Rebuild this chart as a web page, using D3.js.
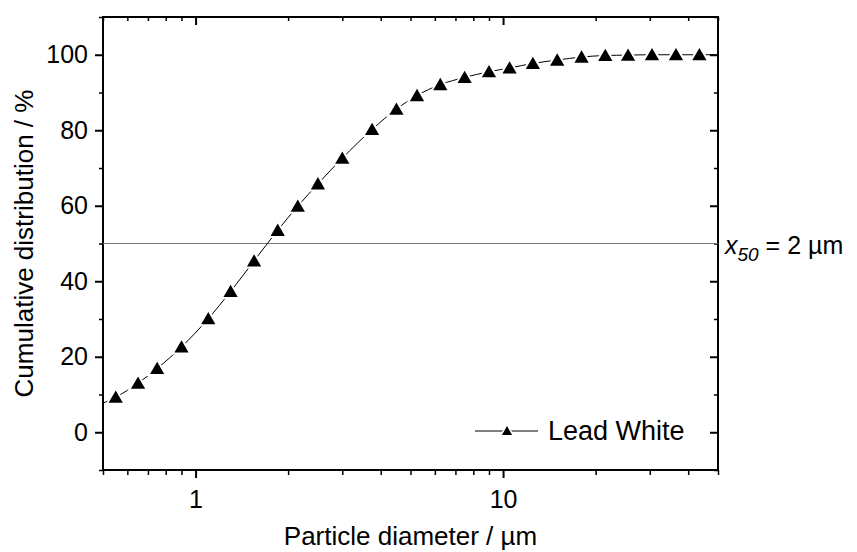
<!DOCTYPE html>
<html>
<head>
<meta charset="utf-8">
<script src="https://cdn.jsdelivr.net/npm/d3@7"></script>
<style>
  body { margin: 0; background: #fff; }
  text { font-family: "Liberation Sans", Arial, sans-serif; fill: #000; }
</style>
</head>
<body>
<svg></svg>
<script>
// sample data

var diameters = [0.55, 0.65, 0.75, 0.9, 1.1, 1.3, 1.55, 1.85, 2.15, 2.5, 3.0, 3.75, 4.5, 5.25,
                 6.25, 7.5, 9.0, 10.5, 12.5, 15, 18, 21.5, 25.5, 30.5, 36.5, 43.5];
var cumulative = [9.3, 13.0, 16.9, 22.6, 30.1, 37.3, 45.4, 53.5, 59.9, 65.8, 72.6, 80.2, 85.6, 89.2,
                  92.1, 94.0, 95.5, 96.5, 97.7, 98.6, 99.4, 99.8, 99.9, 100, 100, 100];

// where the drawn curve meets the frame on both sides
var curveStart = [0.5, 7.7];
var curveEnd = [50, 100];

var xMajorTicks = [1, 10];
var xMinorTicks = [0.5, 0.6, 0.7, 0.8, 0.9, 2, 3, 4, 5, 6, 7, 8, 9, 20, 30, 40, 50];
var yMajorTicks = [0, 20, 40, 60, 80, 100];
var yMinorTicks = [-10, 10, 30, 50, 70, 90, 110];

var x50 = 50;

// settings

var svgWidth = 857;
var svgHeight = 552;
var margin = {top: 17, right: 139, bottom: 82, left: 103};
var width = svgWidth - margin.left - margin.right;
var height = svgHeight - margin.top - margin.bottom;

var svg = d3.select('svg')
            .attr('width', svgWidth)
            .attr('height', svgHeight);

var g = svg.append('g')
           .attr('transform', 'translate(' + margin.left + ',' + margin.top + ')');

var x = d3.scaleLog().domain([0.5, 50]).range([0, width]);
var y = d3.scaleLinear().domain([-10, 110]).range([height, 0]);

// axes: bottom/left point out, top/right are mirrors pointing in

function styleAxis(sel, w) {
    sel.select('.domain').remove();
    sel.selectAll('line').attr('stroke', '#000').attr('stroke-width', w);
    sel.selectAll('text').style('font-size', '25px');
}

g.append('g').attr('transform', 'translate(0,' + height + ')')
    .call(d3.axisBottom(x).tickValues(xMajorTicks).tickSize(8).tickPadding(12).tickFormat(d3.format('d')))
    .call(styleAxis, 2);
g.append('g').attr('transform', 'translate(0,' + height + ')')
    .call(d3.axisBottom(x).tickValues(xMinorTicks).tickSize(5).tickFormat(''))
    .call(styleAxis, 1.5);
g.append('g')
    .call(d3.axisTop(x).tickValues(xMajorTicks).tickSize(-8).tickFormat(''))
    .call(styleAxis, 2);
g.append('g')
    .call(d3.axisTop(x).tickValues(xMinorTicks).tickSize(-4).tickFormat(''))
    .call(styleAxis, 1.5);

g.append('g')
    .call(d3.axisLeft(y).tickValues(yMajorTicks).tickSize(8).tickPadding(7))
    .call(styleAxis, 2);
g.append('g')
    .call(d3.axisLeft(y).tickValues(yMinorTicks).tickSize(4).tickFormat(''))
    .call(styleAxis, 1.5);
g.append('g').attr('transform', 'translate(' + width + ',0)')
    .call(d3.axisRight(y).tickValues(yMajorTicks).tickSize(-8).tickFormat(''))
    .call(styleAxis, 2);
g.append('g').attr('transform', 'translate(' + width + ',0)')
    .call(d3.axisRight(y).tickValues(yMinorTicks).tickSize(-4).tickFormat(''))
    .call(styleAxis, 1.5);

// frame

g.append('rect')
    .attr('width', width)
    .attr('height', height)
    .attr('fill', 'none')
    .attr('stroke', '#000')
    .attr('stroke-width', 2);

// x50 reference line

g.append('line')
    .attr('x1', 0).attr('x2', width)
    .attr('y1', y(x50)).attr('y2', y(x50))
    .attr('stroke', '#777')
    .attr('stroke-width', 1.2);

var x50Label = g.append('text')
    .attr('x', width + 7)
    .attr('y', y(x50) + 10)
    .style('font-size', '25px');
x50Label.append('tspan').style('font-style', 'italic').text('x');
x50Label.append('tspan').style('font-style', 'italic').style('font-size', '19px')
    .attr('dy', 7).text('50');
x50Label.append('tspan').attr('dy', -7).text(' = 2 \u00b5m');

// curve + markers

var points = diameters.map(function(d, i) { return [d, cumulative[i]]; });
var curvePoints = [curveStart].concat(points).concat([curveEnd]);

var line = d3.line()
    .x(function(d) { return x(d[0]); })
    .y(function(d) { return y(d[1]); })
    .curve(d3.curveMonotoneX);

g.append('path')
    .datum(curvePoints)
    .attr('d', line)
    .attr('fill', 'none')
    .attr('stroke', '#000')
    .attr('stroke-width', 1);

var triangle = d3.symbol().type(d3.symbolTriangle).size(88);

g.selectAll('.marker')
    .data(points)
    .enter()
    .append('path')
    .attr('class', 'marker')
    .attr('d', triangle)
    .attr('transform', function(d) { return 'translate(' + x(d[0]) + ',' + (y(d[1]) + 1.5) + ')'; })
    .attr('fill', '#000')
    .attr('stroke', '#fff')
    .attr('stroke-width', 4)
    .style('paint-order', 'stroke');

// legend

var legendTriangle = d3.symbol().type(d3.symbolTriangle).size(45);

var legend = svg.append('g').attr('transform', 'translate(475,431)');
legend.append('line').attr('x1', 0).attr('x2', 63).attr('stroke', '#000').attr('stroke-width', 1);
legend.append('path').attr('d', legendTriangle).attr('transform', 'translate(32,1)')
    .attr('fill', '#000').attr('stroke', '#fff').attr('stroke-width', 3).style('paint-order', 'stroke');
legend.append('text').attr('x', 73).attr('y', 9).style('font-size', '27px').text('Lead White');

// axis titles

svg.append('text')
    .attr('x', margin.left + width / 2)
    .attr('y', 545)
    .attr('text-anchor', 'middle')
    .style('font-size', '26px')
    .text('Particle diameter / \u00b5m');

svg.append('text')
    .attr('transform', 'translate(33,' + (margin.top + height / 2) + ') rotate(-90)')
    .attr('text-anchor', 'middle')
    .style('font-size', '26px')
    .text('Cumulative distribution / %');
</script>
</body>
</html>
